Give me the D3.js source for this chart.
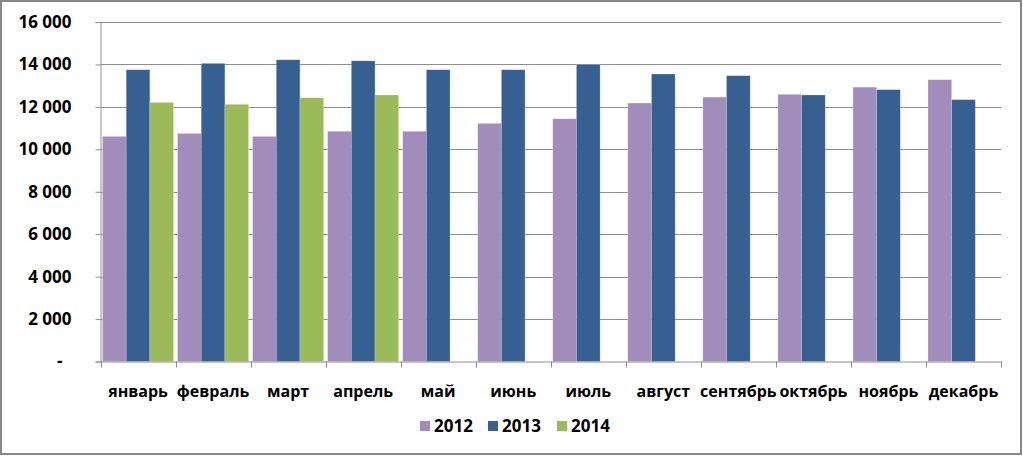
<!DOCTYPE html>
<html><head><meta charset="utf-8">
<script src="https://cdn.jsdelivr.net/npm/d3@7"></script>
<style>body{margin:0;background:#fff}svg{display:block}text{font-family:"Open Sans",sans-serif;font-weight:bold;fill:#000}</style>
</head><body><svg id="c" width="1023" height="456"></svg>
<script>
const months = ["январь","февраль","март","апрель","май","июнь","июль","август","сентябрь","октябрь","ноябрь","декабрь"];
const series = ["2012","2013","2014"];
const v2012 = [10610,10750,10610,10850,10850,11220,11440,12180,12460,12590,12930,13280];
const v2013 = [13750,14050,14220,14170,13750,13750,14000,13550,13470,12560,12810,12340];
const v2014 = [12210,12120,12430,12560,null,null,null,null,null,null,null,null];
const yTicks = [0,2000,4000,6000,8000,10000,12000,14000,16000];
const colors = ["#A18CBB","#376092","#9BBB59"];

const svg = d3.select("#c");
const L=100.5, R=1001, T=22, B=361.5;
const values = [v2012,v2013,v2014];
const x0 = d3.scaleBand().domain(months).range([L,R]).padding(0);
const x1 = d3.scaleBand().domain(series).range([0,x0.bandwidth()]).paddingInner(0).paddingOuter(0.085);
const y = d3.scaleLinear().domain([0,16000]).range([B,T]);
const fmt = v => v===0 ? "-" : d3.format(",")(v).replace(/,/g," ");

// gridlines
svg.append("g").selectAll("line").data(yTicks.filter(d=>d>0)).join("line")
  .attr("x1",L).attr("x2",R).attr("y1",d=>Math.round(y(d))+0.5).attr("y2",d=>Math.round(y(d))+0.5)
  .attr("stroke","#8e8e8e").attr("stroke-width",1);

// bars
const g = svg.append("g");
months.forEach((m,i)=>{
  series.forEach((s,j)=>{
    const v = values[j][i];
    if(v==null) return;
    g.append("rect").attr("x",x0(m)+x1(s)).attr("y",y(v)).attr("width",x1.bandwidth()).attr("height",B-y(v))
      .attr("fill",colors[j]).attr("stroke","rgba(255,255,255,0.35)").attr("stroke-width",0.6);
  });
});

// y axis
const ya = svg.append("g").attr("transform",`translate(${L},0)`)
  .call(d3.axisLeft(y).tickValues(yTicks).tickFormat(fmt).tickSize(5).tickPadding(29));
ya.select(".domain").attr("stroke","#8e8e8e");
ya.selectAll(".tick line").attr("stroke","#8e8e8e");
ya.selectAll(".tick text").style("font-family","'Open Sans',sans-serif").style("font-weight","bold").style("font-size","17px").attr("fill","#000")
  .attr("x",d=>d===0?-38:-29);

// x axis
const xa = svg.append("g").attr("transform",`translate(0,${B})`)
  .call(d3.axisBottom(x0).tickSize(0).tickPadding(24));
xa.select(".domain").attr("stroke","#8e8e8e");
xa.selectAll(".tick text").style("font-family","'Open Sans',sans-serif").style("font-weight","bold").style("font-size","16px").attr("fill","#000");
svg.append("g").selectAll("line").data(months.concat(["end"])).join("line")
  .attr("x1",(d,i)=>Math.round(L+i*x0.step())+0.5).attr("x2",(d,i)=>Math.round(L+i*x0.step())+0.5)
  .attr("y1",B).attr("y2",B+6).attr("stroke","#8e8e8e");

// legend
const legX = [420,488,557];
const lg = svg.append("g");
series.forEach((s,j)=>{
  lg.append("rect").attr("x",legX[j]).attr("y",421).attr("width",10).attr("height",10).attr("fill",colors[j]);
  lg.append("text").attr("x",legX[j]+14).attr("y",432).style("font-size","17px").text(s);
});

// border
svg.append("rect").attr("x",1).attr("y",1).attr("width",1020).attr("height",453)
  .attr("fill","none").attr("stroke","#888").attr("stroke-width",2);
</script></body></html>
